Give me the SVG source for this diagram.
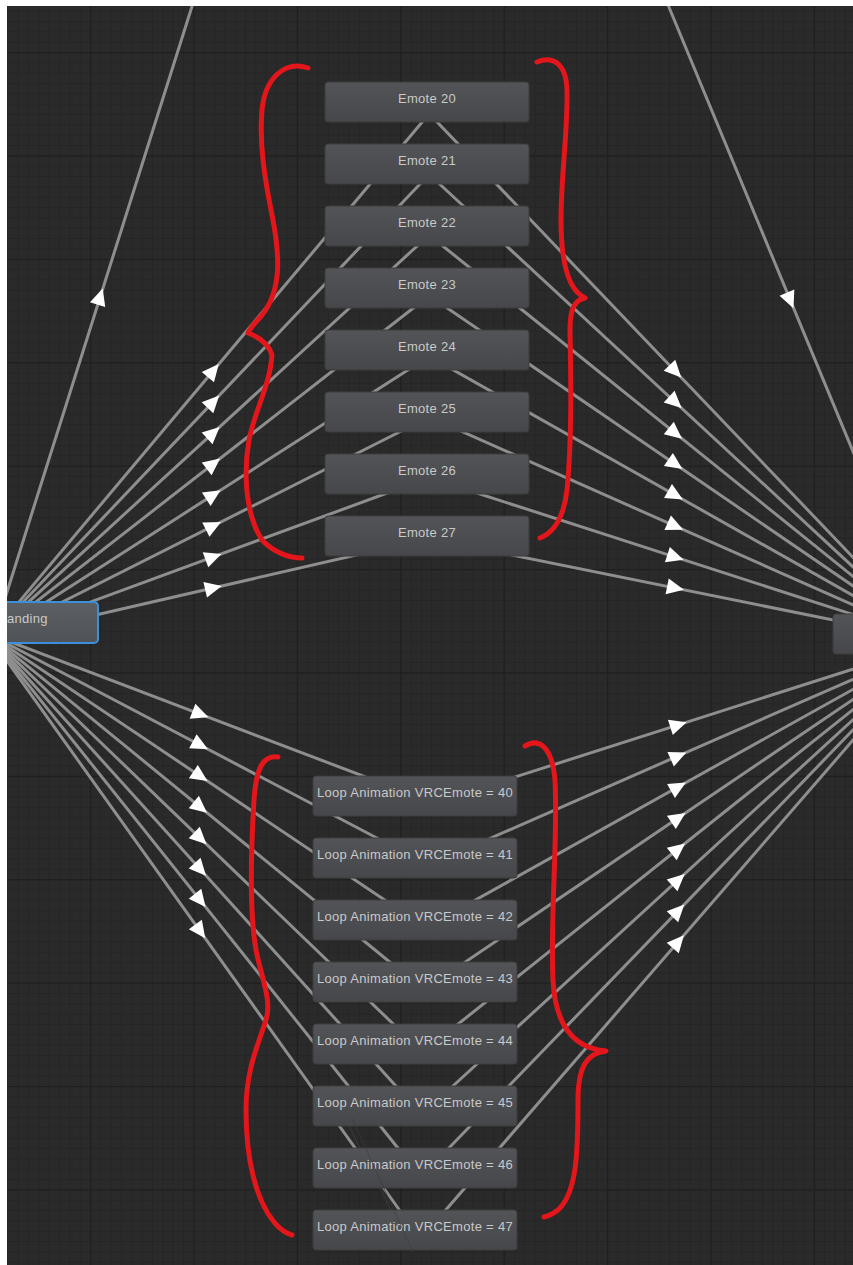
<svg xmlns="http://www.w3.org/2000/svg" width="853" height="1265" viewBox="0 0 853 1265">
<defs>
<pattern id="minor" width="10.34" height="10.34" patternUnits="userSpaceOnUse" x="90" y="52"><path d="M0 0.5H10.34M0.5 0V10.34" stroke="#252525" stroke-width="1" fill="none"/></pattern>
<pattern id="major" width="103.4" height="103.4" patternUnits="userSpaceOnUse" x="90" y="52"><path d="M0 0.5H103.4M0.5 0V103.4" stroke="#1f1f1f" stroke-width="1.5" fill="none"/></pattern>
<linearGradient id="ng" x1="0" y1="0" x2="0" y2="1"><stop offset="0" stop-color="#535458"/><stop offset="1" stop-color="#46474a"/></linearGradient>
<linearGradient id="sg" x1="0" y1="0" x2="0" y2="1"><stop offset="0" stop-color="#5c5f64"/><stop offset="1" stop-color="#4f5256"/></linearGradient>
<polygon id="ar" points="9,0 -8,-8 -8,8"/>
<style>
.ln{stroke:#8e8e8e;stroke-width:3;fill:none;stroke-linecap:round}
.thin{stroke:#3c3c3c;stroke-width:1;fill:none}
.ah{fill:#ffffff}
.nd{fill:url(#ng);stroke:#3c3c3e;stroke-width:1}
.tx{font-family:"Liberation Sans",Arial,sans-serif;font-size:13px;letter-spacing:0.3px;fill:#c9c9c9;text-anchor:middle}
.br{stroke:#e2161b;stroke-width:5;fill:none;stroke-linecap:round;stroke-linejoin:round}
</style>
</defs>
<rect width="853" height="1265" fill="#2a2a2a"/>
<rect width="853" height="1265" fill="url(#minor)"/>
<rect width="853" height="1265" fill="url(#major)"/>

<g id="connectors">
<line class="thin" x1="340" y1="1108" x2="412" y2="1252"/>
<line class="ln" x1="194" y1="0" x2="-5" y2="630"/>
<line class="ln" x1="666" y1="0" x2="900" y2="565"/>
<g id="up-left">
<line class="ln" x1="-13" y1="640" x2="439" y2="102"/>
<line class="ln" x1="-13" y1="640" x2="439" y2="164"/>
<line class="ln" x1="-13" y1="640" x2="439" y2="226"/>
<line class="ln" x1="-13" y1="640" x2="439" y2="288"/>
<line class="ln" x1="-13" y1="640" x2="439" y2="350"/>
<line class="ln" x1="-13" y1="640" x2="439" y2="412"/>
<line class="ln" x1="-13" y1="640" x2="439" y2="474"/>
<line class="ln" x1="-13" y1="640" x2="439" y2="536"/>
</g>
<g id="up-right">
<line class="ln" x1="418" y1="102" x2="932" y2="640"/>
<line class="ln" x1="418" y1="164" x2="932" y2="640"/>
<line class="ln" x1="418" y1="226" x2="932" y2="640"/>
<line class="ln" x1="418" y1="288" x2="932" y2="640"/>
<line class="ln" x1="418" y1="350" x2="932" y2="640"/>
<line class="ln" x1="418" y1="412" x2="932" y2="640"/>
<line class="ln" x1="418" y1="474" x2="932" y2="640"/>
<line class="ln" x1="418" y1="536" x2="932" y2="640"/>
</g>
<g id="low-left">
<line class="ln" x1="-13" y1="633" x2="413" y2="795"/>
<line class="ln" x1="-13" y1="633" x2="413" y2="857"/>
<line class="ln" x1="-13" y1="633" x2="413" y2="919"/>
<line class="ln" x1="-13" y1="633" x2="413" y2="981"/>
<line class="ln" x1="-13" y1="633" x2="413" y2="1043"/>
<line class="ln" x1="-13" y1="633" x2="413" y2="1105"/>
<line class="ln" x1="-13" y1="633" x2="413" y2="1167"/>
<line class="ln" x1="-13" y1="633" x2="413" y2="1229"/>
</g>
<g id="low-right">
<line class="ln" x1="418" y1="808" x2="938" y2="642"/>
<line class="ln" x1="418" y1="870" x2="938" y2="642"/>
<line class="ln" x1="418" y1="932" x2="938" y2="642"/>
<line class="ln" x1="418" y1="994" x2="938" y2="642"/>
<line class="ln" x1="418" y1="1056" x2="938" y2="642"/>
<line class="ln" x1="418" y1="1118" x2="938" y2="642"/>
<line class="ln" x1="418" y1="1180" x2="938" y2="642"/>
<line class="ln" x1="418" y1="1242" x2="938" y2="642"/>
</g>
<g id="arrows" class="ah">
<use href="#ar" transform="translate(100,297) rotate(-72.47)"/>
<use href="#ar" transform="translate(790,300) rotate(67.47)"/>
<use href="#ar" transform="translate(213,371) rotate(-49.97)"/>
<use href="#ar" transform="translate(213,402) rotate(-46.48)"/>
<use href="#ar" transform="translate(213,433) rotate(-42.49)"/>
<use href="#ar" transform="translate(213,464) rotate(-37.91)"/>
<use href="#ar" transform="translate(213,495) rotate(-32.68)"/>
<use href="#ar" transform="translate(213,526) rotate(-26.77)"/>
<use href="#ar" transform="translate(213,557) rotate(-20.17)"/>
<use href="#ar" transform="translate(213,588) rotate(-12.96)"/>
<use href="#ar" transform="translate(675,371) rotate(46.31)"/>
<use href="#ar" transform="translate(675,402) rotate(42.80)"/>
<use href="#ar" transform="translate(675,433) rotate(38.85)"/>
<use href="#ar" transform="translate(675,464) rotate(34.40)"/>
<use href="#ar" transform="translate(675,495) rotate(29.43)"/>
<use href="#ar" transform="translate(675,526) rotate(23.92)"/>
<use href="#ar" transform="translate(675,557) rotate(17.90)"/>
<use href="#ar" transform="translate(675,588) rotate(11.44)"/>
<use href="#ar" transform="translate(200,714) rotate(20.82)"/>
<use href="#ar" transform="translate(200,745) rotate(27.74)"/>
<use href="#ar" transform="translate(200,776) rotate(33.87)"/>
<use href="#ar" transform="translate(200,807) rotate(39.24)"/>
<use href="#ar" transform="translate(200,838) rotate(43.91)"/>
<use href="#ar" transform="translate(200,869) rotate(47.93)"/>
<use href="#ar" transform="translate(200,900) rotate(51.42)"/>
<use href="#ar" transform="translate(200,931) rotate(54.45)"/>
<use href="#ar" transform="translate(678,725) rotate(-17.70)"/>
<use href="#ar" transform="translate(678,756) rotate(-23.68)"/>
<use href="#ar" transform="translate(678,787) rotate(-29.14)"/>
<use href="#ar" transform="translate(678,818) rotate(-34.09)"/>
<use href="#ar" transform="translate(678,849) rotate(-38.53)"/>
<use href="#ar" transform="translate(678,880) rotate(-42.47)"/>
<use href="#ar" transform="translate(678,911) rotate(-45.97)"/>
<use href="#ar" transform="translate(678,942) rotate(-49.09)"/>
</g>
</g>

<g id="node-standing"><rect x="-60" y="602" width="158" height="41" rx="4" fill="url(#sg)" stroke="#3b8fdc" stroke-width="2"/><text x="7" y="623" style="font-family:'Liberation Sans',Arial,sans-serif;font-size:13px;letter-spacing:0.3px;fill:#c9c9c9">anding</text></g>
<g id="node-right"><rect x="833" y="614" width="60" height="40" rx="3" class="nd"/></g>

<g id="node-emote20"><rect x="325" y="82" width="204" height="40" rx="3" class="nd"/><text x="427" y="103" class="tx">Emote 20</text></g>
<g id="node-emote21"><rect x="325" y="144" width="204" height="40" rx="3" class="nd"/><text x="427" y="165" class="tx">Emote 21</text></g>
<g id="node-emote22"><rect x="325" y="206" width="204" height="40" rx="3" class="nd"/><text x="427" y="227" class="tx">Emote 22</text></g>
<g id="node-emote23"><rect x="325" y="268" width="204" height="40" rx="3" class="nd"/><text x="427" y="289" class="tx">Emote 23</text></g>
<g id="node-emote24"><rect x="325" y="330" width="204" height="40" rx="3" class="nd"/><text x="427" y="351" class="tx">Emote 24</text></g>
<g id="node-emote25"><rect x="325" y="392" width="204" height="40" rx="3" class="nd"/><text x="427" y="413" class="tx">Emote 25</text></g>
<g id="node-emote26"><rect x="325" y="454" width="204" height="40" rx="3" class="nd"/><text x="427" y="475" class="tx">Emote 26</text></g>
<g id="node-emote27"><rect x="325" y="516" width="204" height="40" rx="3" class="nd"/><text x="427" y="537" class="tx">Emote 27</text></g>

<g id="node-loop40"><rect x="313" y="776" width="204" height="40" rx="3" class="nd"/><text x="415" y="797" class="tx">Loop Animation VRCEmote = 40</text></g>
<g id="node-loop41"><rect x="313" y="838" width="204" height="40" rx="3" class="nd"/><text x="415" y="859" class="tx">Loop Animation VRCEmote = 41</text></g>
<g id="node-loop42"><rect x="313" y="900" width="204" height="40" rx="3" class="nd"/><text x="415" y="921" class="tx">Loop Animation VRCEmote = 42</text></g>
<g id="node-loop43"><rect x="313" y="962" width="204" height="40" rx="3" class="nd"/><text x="415" y="983" class="tx">Loop Animation VRCEmote = 43</text></g>
<g id="node-loop44"><rect x="313" y="1024" width="204" height="40" rx="3" class="nd"/><text x="415" y="1045" class="tx">Loop Animation VRCEmote = 44</text></g>
<g id="node-loop45"><rect x="313" y="1086" width="204" height="40" rx="3" class="nd"/><text x="415" y="1107" class="tx">Loop Animation VRCEmote = 45</text></g>
<g id="node-loop46"><rect x="313" y="1148" width="204" height="40" rx="3" class="nd"/><text x="415" y="1169" class="tx">Loop Animation VRCEmote = 46</text></g>
<g id="node-loop47"><rect x="313" y="1210" width="204" height="40" rx="3" class="nd"/><text x="415" y="1231" class="tx">Loop Animation VRCEmote = 47</text></g>
<line class="thin" x1="352" y1="1118" x2="412" y2="1250" stroke-opacity="0.6"/>

<g id="braces">
<path class="br" d="M308,68 C285,60 265,78 262,110 C259,145 265,180 272,215 C280,255 282,290 262,315 C256,322 250,328 248,333 C256,336 268,342 272,355 C270,385 255,410 249,440 C243,475 246,515 262,540 C274,553 290,558 302,558"/>
<path class="br" d="M537,62 C552,56 566,62 567,90 C568,130 561,175 561,220 C561,260 568,290 585,298 C574,300 570,310 570,330 C571,380 572,440 567,490 C564,515 555,532 540,538"/>
<path class="br" d="M278,757 C262,755 256,770 254,800 C251,850 249,910 256,950 C262,980 272,1000 266,1020 C258,1045 246,1070 246,1110 C246,1160 256,1200 274,1222 C280,1230 288,1234 292,1235"/>
<path class="br" d="M525,746 C538,738 552,745 555,780 C558,840 550,920 553,980 C555,1020 570,1048 606,1051 C588,1053 578,1065 578,1100 C578,1150 577,1190 560,1208 C554,1214 548,1216 544,1217"/>
</g>
<rect x="0" y="0" width="853" height="6" fill="#ffffff"/>
<rect x="0" y="0" width="7" height="1265" fill="#ffffff"/>
</svg>
